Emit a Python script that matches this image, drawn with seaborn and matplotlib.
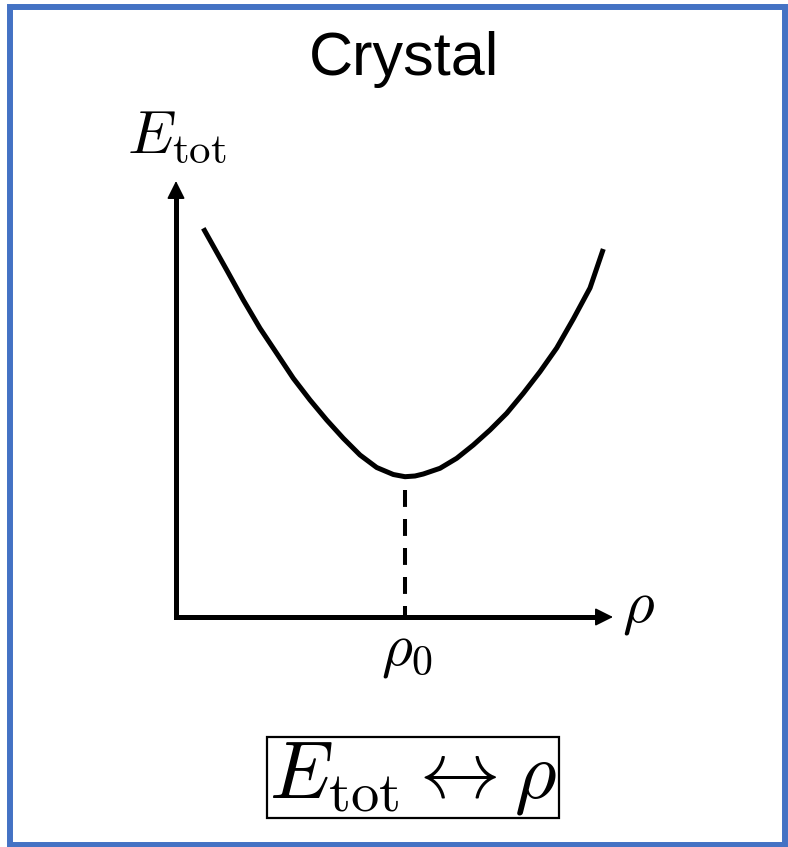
import matplotlib
matplotlib.use("Agg")
import matplotlib.pyplot as plt
import seaborn as sns
from matplotlib.patches import Rectangle

# curve (rho, E_tot), arbitrary units
rho = [0.273, 0.507, 0.673, 0.840, 1.007, 1.173, 1.340, 1.507, 1.673, 1.840,
       2.007, 2.173, 2.290, 2.390, 2.473, 2.640, 2.807, 2.973, 3.140, 3.307,
       3.473, 3.640, 3.807, 3.973, 4.140, 4.273]
energy = [3.887, 3.470, 3.170, 2.887, 2.637, 2.387, 2.170, 1.970, 1.787, 1.620,
          1.495, 1.425, 1.403, 1.410, 1.430, 1.487, 1.587, 1.720, 1.870, 2.037,
          2.237, 2.453, 2.690, 2.980, 3.290, 3.680]
rho0 = 2.29
e_min = 1.40
x_arrow = 4.37
y_arrow = 4.36

sns.set_theme(style="white")
plt.rcParams['mathtext.fontset'] = 'cm'
plt.rcParams['text.color'] = 'black'

fig = plt.figure(figsize=(7.88, 8.47), dpi=100)
ax = fig.add_axes([0, 0, 1, 1])
ax.set_xlim(-1.76, 6.12)
ax.set_ylim(-2.30, 6.17)
ax.set_axis_off()

# axes drawn as arrows
ax.plot([0, 0, x_arrow - 0.12], [y_arrow - 0.12, 0, 0], color='black', lw=3.6,
        solid_joinstyle='miter', solid_capstyle='butt')
arr = dict(arrowstyle='-|>,head_length=11,head_width=5.5', color='black',
           lw=1.2, mutation_scale=1, shrinkA=0, shrinkB=0)
ax.annotate('', xy=(x_arrow, 0), xytext=(x_arrow - 0.17, 0), arrowprops=arr)
ax.annotate('', xy=(0, y_arrow), xytext=(0, y_arrow - 0.17), arrowprops=arr)

sns.lineplot(x=rho, y=energy, ax=ax, color='black', linewidth=3.6,
             solid_joinstyle='round', solid_capstyle='butt')
ax.plot([rho0, rho0], [e_min - 0.13, 0], color='black', lw=2.9,
        dashes=(4.2, 3.0))

ax.text(2.28, 5.42, 'Crystal', ha='center', va='baseline', fontsize=44,
        family='Liberation Sans', color='black')
ax.text(0.01, 4.64, r'$E_{\rm tot}$', ha='center', va='baseline', fontsize=44)
ax.text(4.46, -0.04, r'$\rho$', ha='left', va='baseline', fontsize=44)
ax.text(rho0 + 0.02, -0.47, r'$\rho_0$', ha='center', va='baseline', fontsize=43)
ax.text(2.37, -1.80, r'$E_{\rm tot} \leftrightarrow \rho$', ha='center',
        va='baseline', fontsize=58,
        bbox=dict(boxstyle='square,pad=0.02', fc='white', ec='black', lw=1.6))

# blue frame
fig.patches.append(Rectangle((10 / 788, 2 / 847), 775 / 788, 838 / 847,
                             transform=fig.transFigure, fill=False,
                             ec='#4472C4', lw=4.3))

fig.savefig('out.png', dpi=100, facecolor='white')
